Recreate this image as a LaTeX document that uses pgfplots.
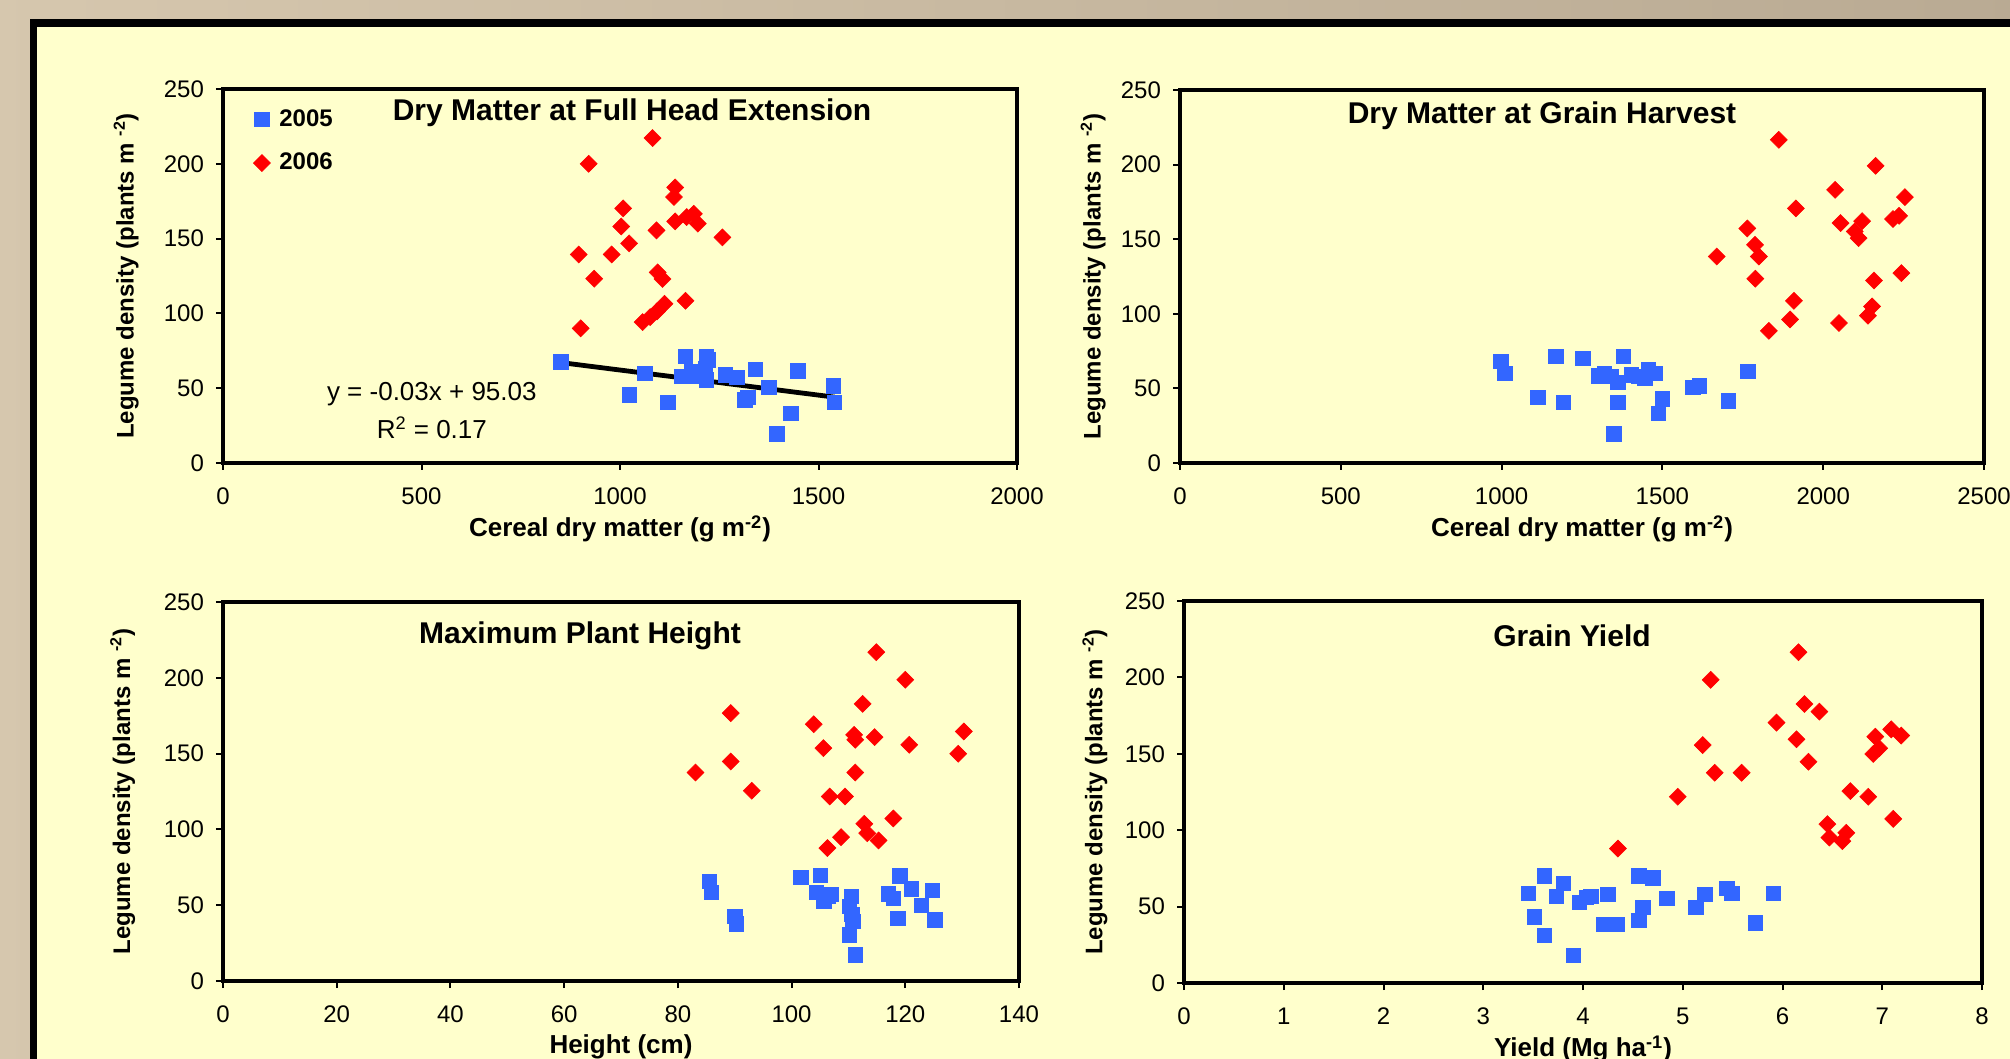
\documentclass[border=0pt]{standalone}
\usepackage{pgfplots}
\pgfplotsset{compat=1.18}
\usepackage{fontspec}
\setmainfont{Liberation Sans}

\definecolor{panelyellow}{HTML}{FFFFCC}
\definecolor{sqblue}{HTML}{3366FF}
\definecolor{dmred}{HTML}{FF0000}
\definecolor{stoneA}{HTML}{D6C7AE}
\definecolor{stoneB}{HTML}{B9AA93}

\newcommand{\fs}[1]{\fontsize{#1}{#1}\selectfont}

\pgfplotsset{
  legpanel/.style={
    scale only axis, anchor=north west,
    ymin=0, ymax=250, ytick={0,50,...,250},
    axis line style={line width=1.6pt},
    every tick/.style={line width=1pt, black},
    major tick length=3.5pt,
    tick align=outside,
    xtick pos=bottom, ytick pos=left,
    ticklabel style={font=\fs{12}},
    /pgf/number format/assume math mode=true,
    /pgf/number format/set thousands separator={},
    xticklabel style={yshift=-5.5pt},
    yticklabel style={xshift=-2.5pt},
    xlabel style={font=\bfseries\fs{13}, at={(axis description cs:0.5,0)}, anchor=center, yshift=-33pt},
    ylabel style={font=\bfseries\fs{12}, anchor=center},
    ylabel={Legume density (plants m \textsuperscript{-2})},
  },
  s2005/.style={only marks, color=sqblue, mark=square*, mark size=3.6pt,
    mark options={draw=sqblue, fill=sqblue, line width=0.3pt}},
  s2006/.style={only marks, color=dmred, mark=square*, mark size=3pt,
    mark options={draw=dmred, fill=dmred, line width=0.3pt, rotate=45}},
}

\begin{document}
\begin{tikzpicture}
% stone background and the framed yellow board
\shade[left color=stoneA, right color=stoneB] (-10pt,10pt) rectangle (1015pt,-540pt);
\draw[line width=3.65pt, fill=panelyellow] (16.75pt,-11.5pt) rectangle (1100pt,-600pt);

% --- Dry matter at full head extension
\begin{axis}[legpanel, at={(111.5pt,-44.5pt)}, width=397pt, height=187pt,
  xmin=0, xmax=2000, xtick={0,500,...,2000},
  xlabel={Cereal dry matter (g m\textsuperscript{-2})},
  ylabel style={at={(axis description cs:-0.122,0.5)}},
  legend style={at={(rel axis cs:0,1)}, anchor=north west, xshift=12pt, yshift=-6pt,
    draw=none, fill=none, font=\bfseries\fs{12}, row sep=8pt,
    /tikz/every odd column/.append style={column sep=2.5pt}},
  legend cell align=left,
  legend image code/.code={\draw[#1] plot coordinates {(0.15cm,0cm)};},
]
\addplot[s2005] coordinates {
(851,67.7)(1165,71.2)(1218,71.2)(1222,69)(1062,60.1)(1155,57.8)(1180,61.2)(1190,58)
(1200,60)(1215,63.4)(1218,55.6)(1265,59)(1294,57.2)(1341,62.8)(1375,50.5)(1448,61.6)
(1537,51.6)(1540,40.5)(1023,45.6)(1120,40.5)(1314,42.3)(1322,44)(1430,33.4)(1395,19.5)};
\addlegendentry{2005}
\addplot[s2006] coordinates {
(1082,217.2)(921,200)(1139,184.2)(1136,177.8)(1008,170.2)(1003,158.1)(1092,155.5)(1139,161.5)
(1168,164.4)(1186,166.6)(1196,160)(1258,150.8)(1023,146.8)(896,139.4)(979,139.4)(1095,127.4)
(1107,123)(935,123.2)(1165,108.4)(1112,106.4)(1093,101.3)(1076,97.5)(1057,94.2)(901,90)};
\addlegendentry{2006}
\addplot[black, line width=2.4pt, forget plot] coordinates {(855,67)(1541,44)};
\node[font=\fs{13}] at (axis cs:526,46.3) {y = -0.03x + 95.03};
\node[font=\fs{13}] at (axis cs:526,23.5) {R\textsuperscript{2} = 0.17};
\end{axis}

% --- Dry matter at grain harvest
\begin{axis}[legpanel, at={(590pt,-45pt)}, width=402pt, height=186.5pt,
  xmin=0, xmax=2500, xtick={0,500,...,2500},
  xlabel={Cereal dry matter (g m\textsuperscript{-2})},
  ylabel style={at={(axis description cs:-0.108,0.5)}},
]
\addplot[s2005] coordinates {
(998,68)(1010,60.3)(1168,71.4)(1252,70.3)(1379,71.4)(1113,44.2)(1192,40.6)(1302,58.4)
(1320,60)(1341,58)(1361,54)(1404,59.1)(1425,58)(1457,62.5)(1476,60.3)(1445,57)
(1361,40.6)(1500,43)(1488,33.2)(1349,19.6)(1595,50.6)(1614,51.7)(1705,41.7)(1765,61.6)};
\addplot[s2006] coordinates {
(1862,216.6)(2163,199.2)(2037,183.1)(2254,178.2)(1915,170.6)(2054,160.8)(2121,162.1)(2217,163.5)
(2236,165.7)(2098,155.2)(2110,150.7)(1764,157.2)(1788,146.2)(1800,138.4)(1669,138.4)(1789,123.5)
(2158,122.3)(2243,127.3)(1909,108.7)(2152,104.9)(2139,98.7)(1897,96.2)(2049,93.8)(1831,88.6)};
\end{axis}

% --- Maximum plant height
\begin{axis}[legpanel, at={(111.5pt,-301pt)}, width=398pt, height=189.5pt,
  xmin=0, xmax=140, xtick={0,20,...,140},
  xlabel={Height (cm)},
  ylabel style={at={(axis description cs:-0.126,0.5)}},
]
\addplot[s2005] coordinates {
(85.5,65.6)(85.9,58.4)(90.0,42.5)(90.3,37.7)(101.6,68.3)(105.0,69.6)(104.3,58.4)(106.4,56.2)
(105.7,52.4)(107,57)(110.5,55.7)(110.2,49.1)(110.6,44)(110.8,39.2)(110.2,30.5)(111.2,17.3)
(119.0,69.4)(121.1,60.8)(124.8,59.7)(117.0,57.5)(117.9,54.7)(122.8,49.8)(118.7,41.5)(125.2,40.4)};
\addplot[s2006] coordinates {
(114.9,216.9)(120.0,198.7)(112.5,182.8)(89.3,176.7)(103.9,169.4)(130.3,164.6)(111.0,162.4)(111.2,159.1)
(114.6,160.9)(120.7,155.8)(105.6,153.6)(129.3,149.9)(89.3,144.8)(83.1,137.5)(111.2,137.5)(93.0,125.5)
(106.7,121.7)(109.4,121.7)(117.9,107.2)(112.8,103.7)(113.3,97.5)(108.7,94.9)(115.3,92.7)(106.3,87.7)};
\end{axis}

% --- Grain yield
\begin{axis}[legpanel, at={(592pt,-300.5pt)}, width=399pt, height=191pt,
  xmin=0, xmax=8, xtick={0,1,...,8},
  xlabel={Yield (Mg ha\textsuperscript{-1})},
  ylabel style={at={(axis description cs:-0.1115,0.5)}},
]
\addplot[s2005] coordinates {
(3.61,70.1)(3.80,65.1)(3.45,58.9)(3.73,56.8)(3.96,53.0)(4.03,55.9)(4.08,56.8)(4.25,57.9)
(4.56,70.1)(4.70,68.8)(4.84,55.3)(4.60,49.4)(4.56,41.0)(4.21,38.4)(4.34,38.4)(3.51,43.2)
(3.61,31.2)(3.90,18.1)(5.22,57.9)(5.13,49.4)(5.44,61.8)(5.49,58.9)(5.91,58.9)(5.73,39.5)};
\addplot[s2006] coordinates {
(6.16,216.5)(5.28,198.4)(6.22,182.6)(6.37,177.6)(5.94,170.4)(7.09,166.0)(7.19,161.9)(6.93,161.2)
(6.14,159.5)(5.20,155.7)(6.97,153.6)(6.91,149.9)(6.26,144.8)(5.32,137.6)(5.59,137.6)(6.68,125.6)
(4.95,121.9)(6.86,121.9)(7.11,107.4)(6.45,104.0)(6.64,98.3)(6.47,95.2)(6.60,92.8)(4.35,88.0)};
\end{axis}

% panel titles
\begin{scope}[every node/.style={font=\bfseries\fs{15}}]
\node at (316pt,-56.5pt) {Dry Matter at Full Head Extension};
\node at (771pt,-58pt) {Dry Matter at Grain Harvest};
\node at (290pt,-318pt) {Maximum Plant Height};
\node at (786pt,-318pt) {Grain Yield};
\end{scope}

\pgfresetboundingbox
\useasboundingbox (0pt,0pt) rectangle (1005pt,-529.5pt);
\end{tikzpicture}
\end{document}
